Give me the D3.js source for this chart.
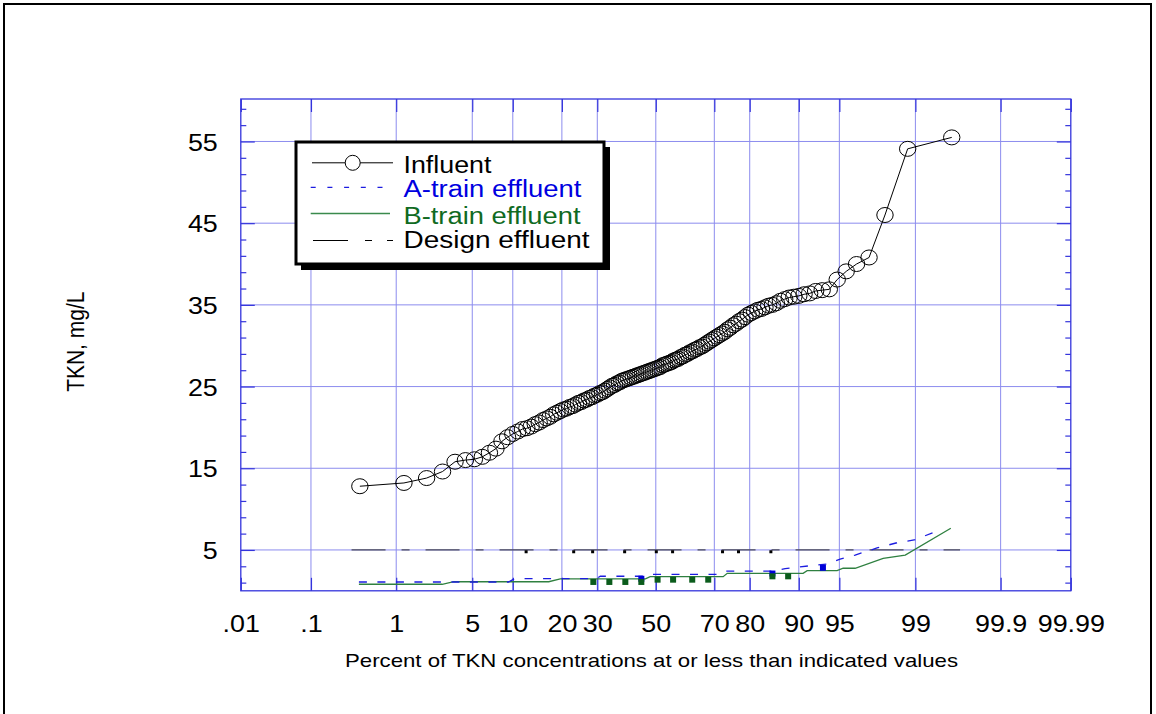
<!DOCTYPE html>
<html>
<head>
<meta charset="utf-8">
<script src="https://cdn.jsdelivr.net/npm/d3@7"></script>
<style>
  body { margin: 0; background: #fff; }
  svg { display: block; }
  text { font-family: Arial, "Liberation Sans", sans-serif; }
</style>
</head>
<body>
<svg id="chart" width="1156" height="714"></svg>
<script>
// ---- Data -------------------------------------------------------------
// Influent TKN samples (mg/L), sorted ascending; plotted at Hazen positions
const influentTKN = [
  12.8, 13.2, 13.8, 14.6, 15.8, 16.0, 16.1, 16.4, 16.9, 17.4,
  18.3, 18.8, 19.2, 19.5, 19.8, 19.9, 20.1, 20.4, 20.6, 20.9,
  21.1, 21.3, 21.6, 21.8, 22.0, 22.2, 22.3, 22.5, 22.6, 22.8,
  23.0, 23.1, 23.3, 23.4, 23.6, 23.7, 23.9, 24.0, 24.2, 24.3,
  24.5, 24.7, 24.9, 25.1, 25.2, 25.4, 25.5, 25.7, 25.8, 25.9,
  26.0, 26.1, 26.2, 26.3, 26.4, 26.5, 26.6, 26.7, 26.8, 26.9,
  27.0, 27.1, 27.2, 27.3, 27.4, 27.6, 27.7, 27.8, 27.9, 28.0,
  28.2, 28.3, 28.4, 28.6, 28.7, 28.9, 29.0, 29.2, 29.3, 29.5,
  29.6, 29.8, 29.9, 30.1, 30.3, 30.5, 30.7, 30.9, 31.1, 31.3,
  31.5, 31.7, 32.0, 32.2, 32.5, 32.7, 33.0, 33.2, 33.5, 33.8,
  34.0, 34.2, 34.4, 34.5, 34.7, 34.9, 35.0, 35.2, 35.5, 35.7,
  35.9, 36.0, 36.1, 36.3, 36.4, 36.7, 36.8, 36.9, 38.1, 39.1,
  40.0, 40.8, 46.0, 54.1, 55.5
];

// A-train effluent: cumulative percent and TKN (mg/L) at each vertex
const aTrainPercent = [0.39, 9.34, 10.26, 29.7, 30.96, 45.5, 47.3, 70.9, 73.0, 85.36,
                       87.68, 91.39, 93.76, 95.07, 96.30, 97.63, 98.43, 98.97, 99.40];
const aTrainTKN     = [1.08, 1.08, 1.48, 1.48, 1.78, 1.78, 2.02, 2.02, 2.42, 2.42,
                       2.71, 3.04, 3.28, 3.89, 4.38, 5.24, 5.85, 6.22, 7.26];

// B-train effluent: cumulative percent and TKN (mg/L) at each vertex
const bTrainPercent = [0.39, 2.78, 3.51, 16.86, 19.6, 46.3, 48.0, 72.7, 73.9, 90.66,
                       91.25, 94.79, 95.34, 96.30, 97.92, 98.73, 99.59];
const bTrainTKN     = [0.80, 0.80, 1.11, 1.11, 1.45, 1.45, 1.73, 1.73, 2.14, 2.14,
                       2.46, 2.46, 2.76, 2.76, 3.98, 4.38, 7.65];

// Design effluent limit
const designPercent = [0.32, 99.68];
const designTKN     = [5, 5];

// Individual flagged samples
const aMarkPercent = [44.84, 85.2, 93.29];
const aMarkTKN     = [1.78, 2.42, 3.12];
const bMarkPercent = [28.78, 33.86, 39.24, 44.84, 50.64, 56.16, 62.8, 68.08, 85.2, 88.22];
const bMarkTKN     = [1.45, 1.45, 1.45, 1.45, 1.73, 1.73, 1.73, 1.73, 2.14, 2.14];
const designMarkPercent = [12.26, 23.09, 28.57, 39.0, 50.18, 55.98, 72.51, 77.07, 84.88];
const designMarkTKN     = [5, 5, 5, 5, 5, 5, 5, 5, 5];

// Axis ticks
const percentTicks = [0.01, 0.1, 1, 5, 10, 20, 30, 50, 70, 80, 90, 95, 99, 99.9, 99.99];
const percentTickLabels = [".01", ".1", "1", "5", "10", "20", "30", "50", "70", "80", "90", "95", "99", "99.9", "99.99"];
const tknTicks = [5, 15, 25, 35, 45, 55];
const tknMinorTicks = [1, 3, 7, 9, 11, 13, 17, 19, 21, 23, 27, 29, 31, 33, 37, 39, 41, 43, 47, 49, 51, 53, 57, 59];

// ---- Normal quantile (Acklam) for the probability axis ----------------
function probit(p) {
  const a = [-3.969683028665376e+01, 2.209460984245205e+02, -2.759285104469687e+02,
             1.383577518672690e+02, -3.066479806614716e+01, 2.506628277459239e+00];
  const b = [-5.447609879822406e+01, 1.615858368580409e+02, -1.556989798598866e+02,
             6.680131188771972e+01, -1.328068155288572e+01];
  const c = [-7.784894002430293e-03, -3.223964580411365e-01, -2.400758277161838e+00,
             -2.549732539343734e+00, 4.374664141464968e+00, 2.938163982698783e+00];
  const d = [7.784695709041462e-03, 3.224671290700398e-01, 2.445134137142996e+00,
             3.754408661907416e+00];
  const plow = 0.02425, phigh = 1 - plow;
  let q, r;
  if (p < plow) {
    q = Math.sqrt(-2 * Math.log(p));
    return (((((c[0]*q+c[1])*q+c[2])*q+c[3])*q+c[4])*q+c[5]) /
           ((((d[0]*q+d[1])*q+d[2])*q+d[3])*q+1);
  }
  if (p <= phigh) {
    q = p - 0.5; r = q * q;
    return (((((a[0]*r+a[1])*r+a[2])*r+a[3])*r+a[4])*r+a[5])*q /
           (((((b[0]*r+b[1])*r+b[2])*r+b[3])*r+b[4])*r+1);
  }
  q = Math.sqrt(-2 * Math.log(1 - p));
  return -(((((c[0]*q+c[1])*q+c[2])*q+c[3])*q+c[4])*q+c[5]) /
          ((((d[0]*q+d[1])*q+d[2])*q+d[3])*q+1);
}

// ---- Layout -----------------------------------------------------------
const plot = { left: 240.8, right: 1070.8, top: 99, bottom: 590.8 };
const svg = d3.select("#chart");

const zScale = d3.scaleLinear()
  .domain([probit(0.0001), probit(0.9999)])
  .range([plot.left, plot.right]);
const px = pct => zScale(probit(pct / 100));
const y = d3.scaleLinear().domain([0, 60.2]).range([plot.bottom, plot.top]);

const AXIS = "#3434dc";
const GRID = "#8c8cee";
const TICK_K = 1.12;   // horizontal glyph stretch of the labels

// outer frame
svg.append("rect").attr("x", 4).attr("y", 4).attr("width", 1147).attr("height", 730)
  .attr("fill", "none").attr("stroke", "#000").attr("stroke-width", 2);

// grid
const gGrid = svg.append("g");
gGrid.selectAll("line.v").data(percentTicks.slice(1, -1)).join("line")
  .attr("x1", d => px(d)).attr("x2", d => px(d))
  .attr("y1", plot.top).attr("y2", plot.bottom)
  .attr("stroke", GRID).attr("stroke-width", 1);
gGrid.selectAll("line.h").data(tknTicks).join("line")
  .attr("x1", plot.left).attr("x2", plot.right)
  .attr("y1", d => y(d)).attr("y2", d => y(d))
  .attr("stroke", GRID).attr("stroke-width", 1);

// inward tick marks on all four sides
function styleTicks(g) {
  g.select(".domain").remove();
  g.selectAll(".tick line").attr("stroke", AXIS).attr("stroke-width", 1.2);
  g.selectAll(".tick text").remove();
}
const zTicks = percentTicks.map(p => probit(p / 100));
svg.append("g").attr("transform", `translate(0,${plot.bottom})`)
  .call(d3.axisBottom(zScale).tickValues(zTicks).tickSize(-13)).call(styleTicks);
svg.append("g").attr("transform", `translate(0,${plot.top})`)
  .call(d3.axisTop(zScale).tickValues(zTicks).tickSize(-13)).call(styleTicks);
svg.append("g").attr("transform", `translate(${plot.left},0)`)
  .call(d3.axisLeft(y).tickValues(tknTicks).tickSize(-14)).call(styleTicks);
svg.append("g").attr("transform", `translate(${plot.left},0)`)
  .call(d3.axisLeft(y).tickValues(tknMinorTicks).tickSize(-5.5)).call(styleTicks);
svg.append("g").attr("transform", `translate(${plot.right},0)`)
  .call(d3.axisRight(y).tickValues(tknTicks).tickSize(-14)).call(styleTicks);
svg.append("g").attr("transform", `translate(${plot.right},0)`)
  .call(d3.axisRight(y).tickValues(tknMinorTicks).tickSize(-5.5)).call(styleTicks);

// plot frame
svg.append("rect").attr("x", plot.left).attr("y", plot.top)
  .attr("width", plot.right - plot.left).attr("height", plot.bottom - plot.top)
  .attr("fill", "none").attr("stroke", AXIS).attr("stroke-width", 1.3);

// tick labels
const xLab = svg.append("g").attr("transform", `translate(0,${plot.bottom})`)
  .call(d3.axisBottom(zScale).tickValues(zTicks).tickSize(0)
    .tickFormat((d, i) => percentTickLabels[i]));
xLab.select(".domain").remove();
xLab.selectAll("text").attr("y", 41).attr("dy", null)
  .attr("font-size", 24).attr("fill", "#000")
  .attr("transform", `scale(${TICK_K},1)`);

const yLab = svg.append("g").attr("transform", `translate(${plot.left},0)`)
  .call(d3.axisLeft(y).tickValues(tknTicks).tickSize(0));
yLab.select(".domain").remove();
yLab.selectAll("text").attr("x", -23 / TICK_K).attr("dy", "0.36em")
  .attr("font-size", 24).attr("fill", "#000")
  .attr("transform", `scale(${TICK_K},1)`);

// axis titles
svg.append("text")
  .attr("x", 651.5).attr("y", 667).attr("text-anchor", "middle")
  .attr("font-size", 19).attr("textLength", 613).attr("lengthAdjust", "spacingAndGlyphs")
  .text("Percent of TKN concentrations at or less than indicated values");
svg.append("text")
  .attr("transform", "translate(83.5,341.7) rotate(-90) scale(1,1.11)")
  .attr("text-anchor", "middle").attr("font-size", 21)
  .text("TKN, mg/L");

// ---- Series -----------------------------------------------------------
const line = d3.line().x(d => px(d[0])).y(d => y(d[1]));
const zip = (a, b) => a.map((v, i) => [v, b[i]]);

// design effluent
svg.append("path").datum(zip(designPercent, designTKN)).attr("d", line)
  .attr("fill", "none").attr("stroke", "#4a4a58").attr("stroke-width", 1.3)
  .attr("stroke-dasharray", "34,16,8,16");

// B-train effluent
svg.append("path").datum(zip(bTrainPercent, bTrainTKN)).attr("d", line)
  .attr("fill", "none").attr("stroke", "#2f8040").attr("stroke-width", 1.3);

// A-train effluent
svg.append("path").datum(zip(aTrainPercent, aTrainTKN)).attr("d", line)
  .attr("fill", "none").attr("stroke", "#1c1ce0").attr("stroke-width", 1.3)
  .attr("stroke-dasharray", "8,10.5");

// flagged-sample markers (hang just below their level)
svg.append("g").selectAll("rect").data(zip(aMarkPercent, aMarkTKN)).join("rect")
  .attr("x", d => px(d[0]) - 3).attr("y", d => y(d[1]) - 0.5)
  .attr("width", 6).attr("height", 6).attr("fill", "#0000d8");
svg.append("g").selectAll("rect").data(zip(bMarkPercent, bMarkTKN)).join("rect")
  .attr("x", d => px(d[0]) - 3).attr("y", d => y(d[1]))
  .attr("width", 6).attr("height", 6).attr("fill", "#0b5c1c");
svg.append("g").selectAll("rect").data(zip(designMarkPercent, designMarkTKN)).join("rect")
  .attr("x", d => px(d[0]) - 1.5).attr("y", d => y(d[1]) + 0.3)
  .attr("width", 3).attr("height", 3).attr("fill", "#000");

// influent
const n = influentTKN.length;
const influent = influentTKN.map((v, i) => [100 * (i + 0.5) / n, v]);
svg.append("path").datum(influent).attr("d", line)
  .attr("fill", "none").attr("stroke", "#000").attr("stroke-width", 1);
svg.append("g").selectAll("ellipse").data(influent).join("ellipse")
  .attr("cx", d => px(d[0])).attr("cy", d => y(d[1]))
  .attr("rx", 8.2).attr("ry", 7.5)
  .attr("fill", "none").attr("stroke", "#000").attr("stroke-width", 1);

// ---- Legend -----------------------------------------------------------
const lg = svg.append("g");
lg.append("rect").attr("x", 301).attr("y", 147).attr("width", 309).attr("height", 123)
  .attr("fill", "#000");
lg.append("rect").attr("x", 296).attr("y", 142).attr("width", 308).attr("height", 122)
  .attr("fill", "#fff").attr("stroke", "#000").attr("stroke-width", 3);

lg.append("line").attr("x1", 312).attr("x2", 393).attr("y1", 162.8).attr("y2", 162.8)
  .attr("stroke", "#000").attr("stroke-width", 1);
lg.append("circle").attr("cx", 352.7).attr("cy", 162.8).attr("r", 7.5)
  .attr("fill", "#fff").attr("stroke", "#000").attr("stroke-width", 1);
lg.append("line").attr("x1", 310.7).attr("x2", 391).attr("y1", 187.3).attr("y2", 187.3)
  .attr("stroke", "#1c1ce0").attr("stroke-width", 1.2).attr("stroke-dasharray", "5,11.7");
lg.append("line").attr("x1", 310.7).attr("x2", 390).attr("y1", 213.5).attr("y2", 213.5)
  .attr("stroke", "#3a8a4c").attr("stroke-width", 1.4);
lg.append("line").attr("x1", 313).attr("x2", 393).attr("y1", 240.5).attr("y2", 240.5)
  .attr("stroke", "#000").attr("stroke-width", 1.2).attr("stroke-dasharray", "35,17,7,15");

const legendItems = [
  { label: "Influent", color: "#000", y: 173.3, w: 88 },
  { label: "A-train effluent", color: "#0000e0", y: 197.3, w: 178 },
  { label: "B-train effluent", color: "#0f6a22", y: 223.5, w: 177 },
  { label: "Design effluent", color: "#000", y: 248.3, w: 186 }
];
lg.selectAll("text.item").data(legendItems).join("text")
  .attr("x", 403.5).attr("y", d => d.y)
  .attr("font-size", 23).attr("fill", d => d.color)
  .attr("textLength", d => d.w).attr("lengthAdjust", "spacingAndGlyphs")
  .text(d => d.label);
</script>
</body>
</html>
